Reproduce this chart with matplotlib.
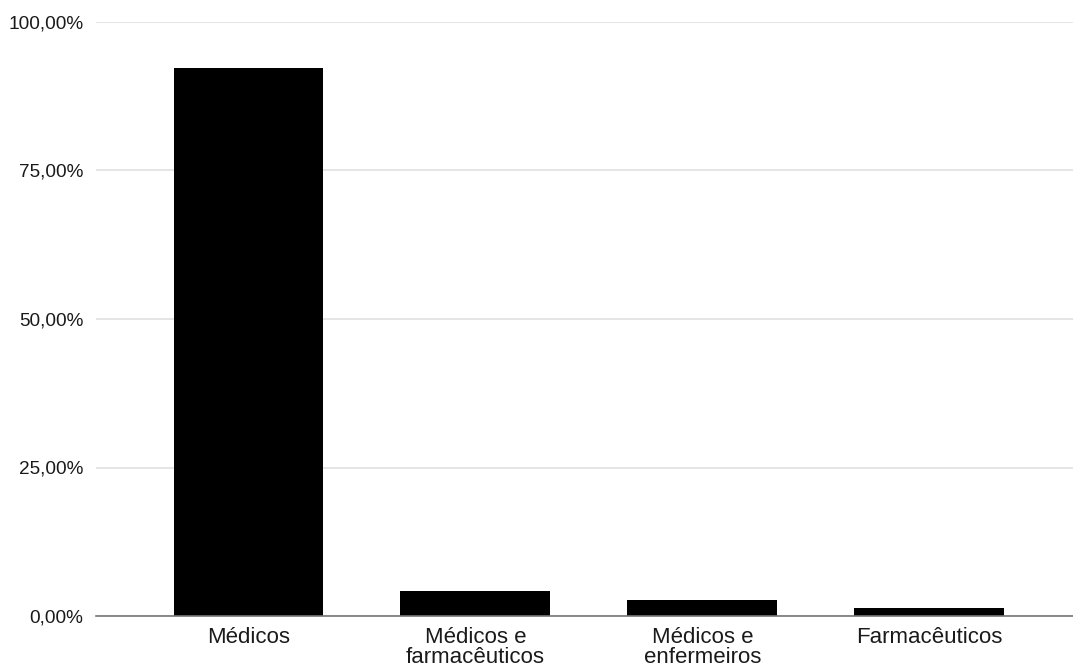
import matplotlib.pyplot as plt
from matplotlib.ticker import FuncFormatter

categorias = ['Médicos', 'Médicos e\nfarmacêuticos', 'Médicos e\nenfermeiros', 'Farmacêuticos']
percentuais = [92.2, 4.2, 2.7, 1.4]
ticks_y = [0, 25, 50, 75, 100]

plt.rcParams['font.family'] = ['Liberation Sans', 'DejaVu Sans']

fig = plt.figure(figsize=(10.73, 6.70), dpi=100)
ax = fig.add_axes([96 / 1073, 54 / 670, 977 / 1073, 594 / 670])

x = range(len(categorias))
ax.bar(x, percentuais, width=0.66, color='black', zorder=3)

ax.set_ylim(0, 100)
ax.set_xlim(-0.672, 3.634)
ax.set_yticks(ticks_y)
ax.yaxis.set_major_formatter(FuncFormatter(lambda v, _: f'{v:.2f}'.replace('.', ',') + '%'))
ax.grid(axis='y', color='#e0e0e0', linewidth=1.2, zorder=0)
ax.set_xticks(list(x))
ax.set_xticklabels(categorias, linespacing=0.95)

for side in ['top', 'right', 'left']:
    ax.spines[side].set_visible(False)
ax.spines['bottom'].set_color('#777777')
ax.spines['bottom'].set_linewidth(1.2)
ax.spines['bottom'].set_zorder(4)

ax.tick_params(axis='y', length=0, pad=9, labelsize=13.7, labelcolor='#1a1a1a')
ax.tick_params(axis='x', length=0, pad=8, labelsize=16, labelcolor='#1a1a1a')

fig.savefig('out.png', dpi=100, facecolor='white')
